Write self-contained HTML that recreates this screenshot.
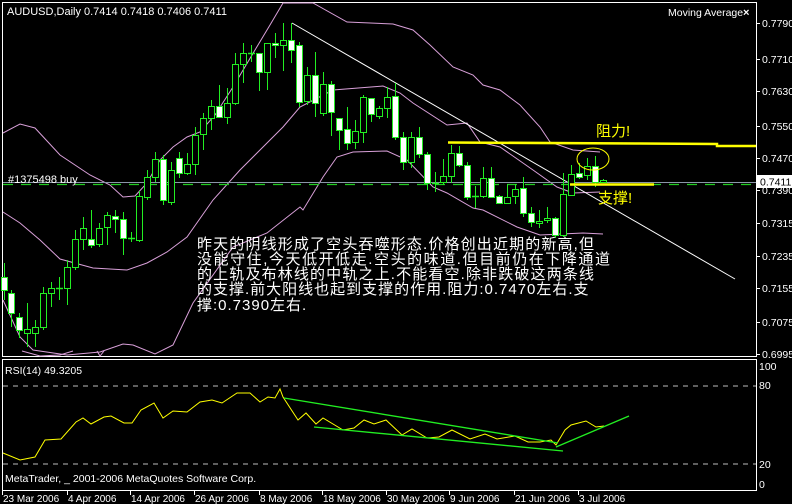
<!DOCTYPE html>
<html><head><meta charset="utf-8">
<style>
html,body{margin:0;padding:0;background:#000;}
svg{display:block;}
text{font-family:"Liberation Sans","Noto Sans CJK SC",sans-serif;}
</style></head>
<body>
<svg id="s" width="792" height="504" viewBox="0 0 792 504" xmlns="http://www.w3.org/2000/svg">
<rect width="792" height="504" fill="#000"/>
<rect x="2.5" y="2.5" width="754" height="354" fill="none" stroke="#fff" stroke-width="1"/>
<rect x="2.5" y="359.5" width="754" height="131" fill="none" stroke="#fff" stroke-width="1"/>
<g fill="none" stroke="#d9a0d9" stroke-width="1">
<polyline points="3,133 20,124 35,128 60,155 90,175 110,185 123,197 135,196 147,183 160,160 173,147 187,137 200,132 215,115 233,87 255,50 270,25 283,3 313,3 347,22 393,24 413,30 430,45 453,67 473,75 483,85 500,90 520,105 540,127 550,142 573,150 600,152"/>
<polyline points="3,212 20,223 40,240 60,259 93,268 127,270 147,263 167,252 187,237 213,200 240,170 260,150 283,127 300,107 333,90 383,86 400,93 413,103 447,125 467,123 480,142 500,147 533,170 557,187 573,193 600,192"/>
<polyline points="3,300 20,337 33,350 67,355 100,352 123,344 133,345 155,354 173,345 193,303 233,247 267,233 300,207 303,210 323,177 337,157 353,152 387,151 407,160 433,187 447,193 473,208 483,210 517,227 540,235 583,233 603,234"/>
<polyline points="22,351 40,356 60,355 73,351"/>
<polyline points="97,351 100,356 104,351"/>
</g>
<line x1="292" y1="23" x2="735" y2="279" stroke="#fff" stroke-width="1"/>
<line x1="3" y1="182.5" x2="756" y2="182.5" stroke="#8a96a8" stroke-width="1"/>
<line x1="3" y1="184.5" x2="756" y2="184.5" stroke="#22cc22" stroke-width="1.2" stroke-dasharray="10,8"/>
<text x="8" y="183" fill="#fff" font-size="11">#1375498 buy</text>
<g id="candles"></g>
<polyline points="448,142.5 640,143.5 717,144 717,146 756,146" fill="none" stroke="#ffff00" stroke-width="2.5"/>
<line x1="570" y1="184.5" x2="654" y2="184.5" stroke="#ffff00" stroke-width="2.5"/>
<ellipse cx="593" cy="159" rx="16" ry="11" fill="none" stroke="#ffff00" stroke-width="1"/>
<text x="596" y="136" fill="#ffff00" font-size="15">阻力!</text>
<text x="598" y="203" fill="#ffff00" font-size="15">支撑!</text>
<g fill="#fff" font-size="15" letter-spacing="1" font-family="'Liberation Sans','Noto Sans CJK SC',sans-serif">
<text x="197" y="249" textLength="398" lengthAdjust="spacing">昨天的阴线形成了空头吞噬形态.价格创出近期的新高,但</text>
<text x="197" y="264" textLength="414" lengthAdjust="spacing">没能守住,今天低开低走.空头的味道.但目前仍在下降通道</text>
<text x="197" y="279" textLength="398" lengthAdjust="spacing">的上轨及布林线的中轨之上.不能看空.除非跌破这两条线</text>
<text x="197" y="294">的支撑.前大阳线也起到支撑的作用.阻力:0.7470左右.支</text>
<text x="197" y="310">撑:0.7390左右.</text>
</g>
<text x="7" y="15" fill="#fff" font-size="11">AUDUSD,Daily  0.7414 0.7418 0.7406 0.7411</text>
<text x="668" y="16" fill="#fff" font-size="10.5">Moving Average</text>
<text x="743" y="16" fill="#fff" font-size="11" font-weight="bold">×</text>
<g fill="#fff" font-size="10.5" id="pax"></g>
<rect x="757" y="175" width="35" height="13" fill="#fff"/>
<text x="760" y="185.5" fill="#000" font-size="10.5">0.7411</text>
<line x1="3" y1="386" x2="756" y2="386" stroke="#bbb" stroke-dasharray="5,5"/>
<line x1="3" y1="464" x2="756" y2="464" stroke="#bbb" stroke-dasharray="5,5"/>
<g fill="#fff" font-size="10.5">
<text x="759" y="370">100</text><text x="759" y="389">80</text><text x="759" y="468">20</text><text x="759" y="488">0</text>
<text x="5" y="374">RSI(14) 49.3205</text>
<text x="5" y="482">MetaTrader, _ 2001-2006 MetaQuotes Software Corp.</text>
</g>
<polyline fill="none" stroke="#ffff00" stroke-width="1" points="3,453 20,460 35,457 45,440 61,439 76,422 83,418 91,424 104,417 111,416 124,423 132,423 141,410 154,403 163,418 173,411 187,412 200,402 212,400 222,403 237,393 250,393 260,402 268,397 275,398 280,389 283,397 298,420 306,413 316,424 323,418 343,430 354,428 364,420 374,424 386,420 402,435 412,429 427,438 439,437 452,430 470,439 485,434 497,439 515,436 528,442 540,442 551,440 556,445 565,430 571,425 586,421 596,427 604,426"/>
<g stroke="#22ee22" stroke-width="1.3">
<line x1="284" y1="398" x2="558" y2="443"/>
<line x1="314" y1="427" x2="563" y2="451"/>
<line x1="556" y1="447" x2="629" y2="416"/>
</g>
<g fill="#fff" font-size="10" id="dax"></g>
</svg>
<script>
var NS="http://www.w3.org/2000/svg";
function el(p,t,a,txt){var e=document.createElementNS(NS,t);for(var k in a)e.setAttribute(k,a[k]);if(txt)e.textContent=txt;p.appendChild(e);return e;}
var C=[[4,263,277,290,300,'w'],[11,290,293,313,327,'w'],[19,313,317,330,338,'w'],[27,303,329,333,347,'h'],[35,320,327,333,347,'h'],[43,287,293,327,330,'h'],[51,282,288,293,307,'h'],[59,277,288,288,300,'d'],[67,260,267,288,305,'h'],[75,230,239,267,270,'h'],[83,217,228,239,250,'h'],[91,210,239,245,248,'w'],[99,223,228,244,247,'h'],[107,212,215,227,245,'h'],[115,210,216,219,233,'w'],[123,212,219,238,255,'w'],[131,232,238,238,242,'d'],[139,191,196,240,242,'h'],[147,170,177,197,200,'h'],[155,152,159,177,182,'h'],[163,155,159,200,205,'w'],[171,162,170,202,205,'h'],[179,152,158,173,178,'w'],[187,153,164,173,175,'h'],[195,127,135,164,175,'h'],[203,113,118,134,150,'h'],[211,100,106,118,130,'h'],[219,85,106,117,118,'w'],[227,88,103,117,124,'h'],[235,53,64,103,105,'h'],[243,43,53,64,83,'h'],[251,45,53,53,62,'d'],[259,53,53,72,91,'w'],[267,43,43,72,90,'h'],[275,33,43,45,58,'w'],[283,23,40,45,71,'h'],[291,23,40,50,63,'w'],[299,42,45,102,107,'w'],[307,67,75,101,105,'h'],[315,52,75,103,117,'w'],[323,72,84,113,116,'h'],[331,81,84,112,136,'w'],[339,118,118,130,150,'w'],[347,107,129,143,150,'w'],[355,120,131,142,149,'h'],[363,95,97,132,143,'h'],[371,98,98,114,122,'w'],[379,106,108,116,119,'h'],[387,87,97,108,118,'h'],[395,83,96,137,140,'w'],[403,132,137,162,170,'w'],[411,132,137,162,168,'h'],[419,127,137,154,158,'w'],[427,152,154,183,190,'w'],[435,172,183,183,192,'d'],[443,159,176,182,185,'h'],[451,145,153,176,183,'h'],[459,146,153,165,167,'w'],[467,162,165,197,200,'w'],[475,186,196,196,208,'d'],[483,167,178,196,198,'h'],[491,167,178,197,197,'w'],[499,195,196,203,204,'w'],[507,184,197,203,203,'h'],[515,184,189,196,204,'h'],[523,177,188,213,217,'w'],[531,207,213,222,227,'w'],[539,210,221,223,228,'h'],[547,207,218,220,223,'h'],[555,217,218,235,238,'w'],[563,173,194,235,237,'h'],[571,165,174,195,196,'h'],[579,163,173,177,179,'w'],[587,158,166,175,180,'h'],[595,156,166,182,187,'w'],[603,179,180,182,183,'h']];
var g=document.getElementById('candles');
C.forEach(function(c){var x=c[0];
el(g,'line',{x1:x+0.5,y1:c[1],x2:x+0.5,y2:c[4],stroke:'#22ee22','stroke-width':1});
if(c[5]=='d'){el(g,'line',{x1:x-3,y1:c[2]+0.5,x2:x+4,y2:c[2]+0.5,stroke:'#22ee22','stroke-width':1.5});}
else{el(g,'rect',{x:x-2.5,y:c[2]+0.5,width:6,height:Math.max(2,c[3]-c[2]),fill:c[5]=='w'?'#fff':'#000',stroke:'#22ee22','stroke-width':1});}
});
var P=[[0.7790,23],[0.7710,59],[0.7630,91],[0.7550,126],[0.7470,158],[0.7390,190],[0.7315,223],[0.7235,256],[0.7155,288],[0.7075,322],[0.6995,354]];
var pa=document.getElementById('pax');
P.forEach(function(p){el(pa,'line',{x1:757,y1:p[1]+0.5,x2:760,y2:p[1]+0.5,stroke:'#fff'});el(pa,'text',{x:762,y:p[1]+4},p[0].toFixed(4));});
var D=[[2,'23 Mar 2006'],[67,'4 Apr 2006'],[130,'14 Apr 2006'],[194,'26 Apr 2006'],[259,'8 May 2006'],[322,'18 May 2006'],[386,'30 May 2006'],[449,'9 Jun 2006'],[514,'21 Jun 2006'],[578,'3 Jul 2006']];
var da=document.getElementById('dax');
D.forEach(function(d){el(da,'line',{x1:d[0]+0.5,y1:491,x2:d[0]+0.5,y2:495,stroke:'#fff'});el(da,'text',{x:d[0]+1,y:502},d[1]);});
</script>
</body></html>
